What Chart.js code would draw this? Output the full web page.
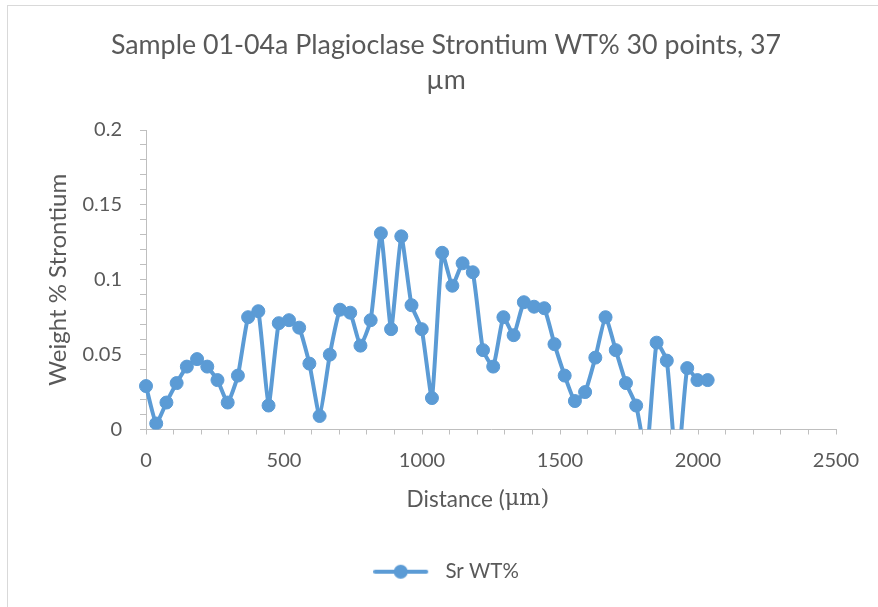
<!DOCTYPE html>
<html>
<head>
<meta charset="utf-8">
<script src="https://cdn.jsdelivr.net/npm/chart.js@4/dist/chart.umd.min.js"></script>
<style>
  html, body { margin: 0; padding: 0; background: #ffffff; overflow: hidden; }
  body { width: 878px; height: 607px; position: relative; }
  #wrap { position: absolute; left: 7px; top: 5px; width: 878px; height: 602px; }
  #frame { position: absolute; left: 7px; top: 5px; width: 900px; height: 700px;
           border-left: 1px solid #d9d9d9; border-top: 1px solid #d9d9d9; pointer-events: none; }
</style>
</head>
<body>
<div id="wrap"><canvas id="chart" width="878" height="602"></canvas></div>
<div id="frame"></div>
<script>
// Sr microprobe traverse: distance along the profile (µm) and Sr weight percent
const distances = [
  0, 37, 74, 111, 148, 185, 222, 259, 296, 333,
  370, 407, 444, 481, 518, 555, 592, 629, 666, 703,
  740, 777, 814, 851, 888, 925, 962, 999, 1036, 1073,
  1110, 1147, 1184, 1221, 1258, 1295, 1332, 1369, 1406, 1443,
  1480, 1517, 1554, 1591, 1628, 1665, 1702, 1739, 1776, 1813,
  1850, 1887, 1924, 1961, 1998, 2035
];
const srWt = [
  0.029, 0.004, 0.018, 0.031, 0.042, 0.047, 0.042, 0.033, 0.018, 0.036,
  0.075, 0.079, 0.016, 0.071, 0.073, 0.068, 0.044, 0.009, 0.050, 0.080,
  0.078, 0.056, 0.073, 0.131, 0.067, 0.129, 0.083, 0.067, 0.021, 0.118,
  0.096, 0.111, 0.105, 0.053, 0.042, 0.075, 0.063, 0.085, 0.082, 0.081,
  0.057, 0.036, 0.019, 0.025, 0.048, 0.075, 0.053, 0.031, 0.016, -0.018,
  0.058, 0.046, -0.030, 0.041, 0.033, 0.033
];
const seriesName = 'Sr WT%';
const chartTitle = ['Sample 01-04a Plagioclase Strontium WT% 30 points, 37', 'µm'];
const yAxisTitle = 'Weight % Strontium';
const xAxisTitleParts = ['Distance (', 'μm)'];
const xMajorLabels = [0, 500, 1000, 1500, 2000, 2500];
const yMajorLabels = ['0', '0.05', '0.1', '0.15', '0.2'];

const FONT = 'Lato, "Open Sans", sans-serif';
const SERIF = '"DejaVu Serif", "Liberation Serif", serif';
const TEXT = '#595959';
const AXIS = '#bfbfbf';
const BLUE = '#5b9bd5';

// Legend symbol: short line with a round marker in the middle
const legendSymbol = document.createElement('canvas');
legendSymbol.width = 62;
legendSymbol.height = 16;
(function () {
  const g = legendSymbol.getContext('2d');
  g.strokeStyle = BLUE;
  g.fillStyle = BLUE;
  g.lineWidth = 4;
  g.lineCap = 'round';
  g.beginPath(); g.moveTo(2, 8); g.lineTo(53, 8); g.stroke();
  g.beginPath(); g.arc(27.5, 8, 7, 0, Math.PI * 2); g.fill();
})();

// Horizontal axis title mixes a sans text run with a serif unit
const xTitlePlugin = {
  id: 'xTitle',
  afterDraw(chart) {
    const { ctx, chartArea } = chart;
    ctx.save();
    const f1 = '22.5px ' + FONT;
    const f2 = '22.5px ' + SERIF;
    ctx.font = f1; const w1 = ctx.measureText(xAxisTitleParts[0]).width;
    ctx.font = f2; const w2 = ctx.measureText(xAxisTitleParts[1]).width;
    const cx = (chartArea.left + chartArea.right) / 2 - 13;
    const y = chartArea.bottom + 70;
    let x = cx - (w1 + w2) / 2;
    ctx.fillStyle = TEXT;
    ctx.textBaseline = 'middle';
    ctx.textAlign = 'left';
    ctx.font = f1; ctx.fillText(xAxisTitleParts[0], x, y);
    ctx.font = f2; ctx.fillText(xAxisTitleParts[1], x + w1, y);
    ctx.restore();
  }
};

new Chart(document.getElementById('chart'), {
  type: 'scatter',
  data: {
    datasets: [{
      label: seriesName,
      data: distances.map((d, i) => ({ x: d, y: srWt[i] })),
      showLine: true,
      borderColor: BLUE,
      backgroundColor: BLUE,
      borderWidth: 4,
      tension: 0.15,
      pointRadius: 6.5,
      pointBorderWidth: 1,
      pointHoverRadius: 6.5,
      clip: { left: false, top: false, right: false, bottom: 0 }
    }]
  },
  options: {
    responsive: false,
    animation: false,
    devicePixelRatio: 1,
    layout: { padding: { left: 49, right: 49, top: 0, bottom: 15 } },
    plugins: {
      title: {
        display: true,
        text: chartTitle,
        color: TEXT,
        font: { family: FONT, size: 26.8, weight: 'normal', lineHeight: 35 / 26.8 },
        padding: { top: 22.5, bottom: 32.5 }
      },
      legend: {
        position: 'bottom',
        labels: {
          usePointStyle: true,
          pointStyleWidth: 62,
          boxHeight: 14,
          padding: 10,
          color: TEXT,
          font: { family: FONT, size: 20.5 },
          generateLabels(chart) {
            const items = Chart.defaults.plugins.legend.labels.generateLabels(chart);
            items.forEach(it => { it.pointStyle = legendSymbol; });
            return items;
          }
        }
      },
      tooltip: { enabled: false }
    },
    scales: {
      x: {
        type: 'linear',
        min: 0,
        max: 2500,
        afterFit(scale) { scale.height = 122; },
        ticks: {
          stepSize: 100,
          autoSkip: false,
          maxRotation: 0,
          padding: 14,
          color: TEXT,
          font: { family: FONT, size: 20 },
          callback: v => (xMajorLabels.includes(v) ? String(v) : '')
        },
        grid: { drawOnChartArea: false, drawTicks: true, tickLength: 5, color: AXIS },
        border: { color: AXIS, width: 1 }
      },
      y: {
        min: 0,
        max: 0.2,
        afterFit(scale) { scale.width = 90; },
        title: {
          display: true,
          text: yAxisTitle,
          color: TEXT,
          font: { family: FONT, size: 24 },
          padding: { top: -12, bottom: 0 }
        },
        ticks: {
          stepSize: 0.01,
          autoSkip: false,
          padding: 18,
          color: TEXT,
          font: { family: FONT, size: 20 },
          callback: v => {
            const k = Math.round(v * 100);
            return k % 5 === 0 ? yMajorLabels[k / 5] : '';
          }
        },
        grid: { drawOnChartArea: false, drawTicks: true, tickLength: 6, color: AXIS },
        border: { color: AXIS, width: 1 }
      }
    }
  },
  plugins: [xTitlePlugin]
});
</script>
</body>
</html>
